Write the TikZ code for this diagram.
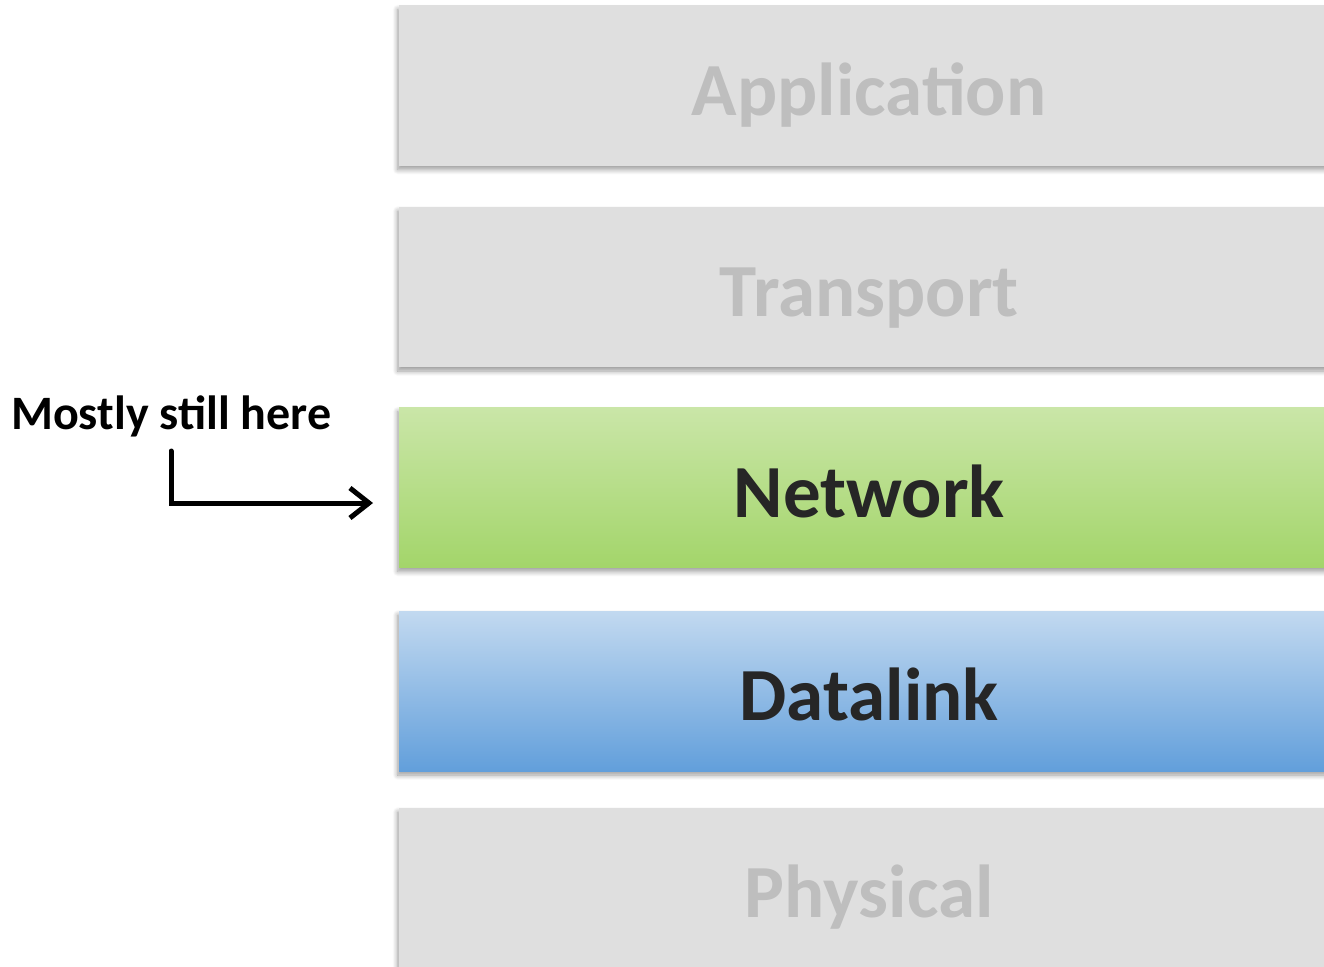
\documentclass[tikz,border=0pt]{standalone}
\usepackage{fontspec}
\setmainfont{Carlito}
\usetikzlibrary{arrows.meta,shadows.blur}

\definecolor{layergray}{HTML}{DFDFDF}
\definecolor{layertext}{HTML}{BEBEBE}
\definecolor{darktext}{HTML}{262626}
\definecolor{greentop}{HTML}{CAE6A8}
\definecolor{greenbot}{HTML}{A3D56A}
\definecolor{bluetop}{HTML}{C2D9F0}
\definecolor{bluebot}{HTML}{629FDB}

\tikzset{
  layerbox/.style={
    minimum width=940pt, minimum height=160pt, inner sep=0pt,
    draw=none, anchor=west,
    blur shadow={shadow xshift=-1.5pt, shadow yshift=-4pt,
                 shadow blur radius=5pt, shadow blur steps=8, shadow opacity=40}
  },
  grayfill/.style={fill=layergray},
  greenfill/.style={top color=greentop, bottom color=greenbot},
  bluefill/.style={top color=bluetop, bottom color=bluebot},
  layerlabel/.style={anchor=base, font=\bfseries\fontsize{75}{82}\selectfont, inner sep=0pt},
  fadedlabel/.style={layerlabel, text=layertext},
  activelabel/.style={layerlabel, text=darktext},
  notelabel/.style={anchor=base west, inner sep=0pt, font=\bfseries\fontsize{48}{54}\selectfont, text=black},
  pointer/.style={line width=5pt, -{Straight Barb[length=19pt, width=30pt]}, line cap=round, line join=miter}
}

\begin{document}
\begin{tikzpicture}[x=1pt,y=1pt]
  \useasboundingbox (0,0) rectangle (1324,-966);
  \clip (0,0) rectangle (1324,-966);

  % protocol stack layers
  \node[layerbox, grayfill]  (app)  at (399,-85.5) {};
  \node[layerbox, grayfill]  (tra)  at (399,-287)  {};
  \node[layerbox, greenfill] (net)  at (399,-487.5) {};
  \node[layerbox, bluefill]  (dl)   at (399,-691)  {};
  \node[layerbox, grayfill]  (phy)  at (399,-888)  {};

  \node[fadedlabel]  (appl) at ([yshift=-29.5pt]app.center) {Application};
  \node[fadedlabel]  (tral) at ([yshift=-29.5pt]tra.center) {Transport};
  \node[activelabel] (netl) at ([yshift=-29.5pt]net.center) {Network};
  \node[activelabel] (dll)  at ([yshift=-29.5pt]dl.center)  {Datalink};
  \node[fadedlabel]  (phyl) at ([yshift=-29.5pt]phy.center) {Physical};

  % side note with pointer to the network layer
  \node[notelabel] (note) at (11,-429) {Mostly still here};
  \coordinate (pstart) at (171,-451);
  \coordinate (ptip) at ([xshift=-26pt,yshift=-15.5pt]net.west);
  \draw[pointer] (pstart) |- (ptip);
\end{tikzpicture}
\end{document}
